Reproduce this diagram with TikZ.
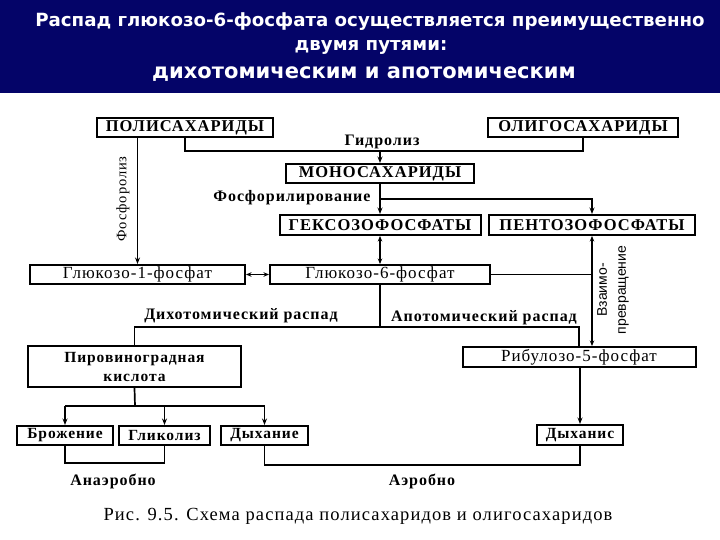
\documentclass[tikz,border=0pt]{standalone}
\usepackage{fontspec}
\setmainfont{Liberation Serif}[LetterSpace=6]
\newfontfamily\headfont{DejaVu Sans}
\newfontfamily\narrowfont{Liberation Sans}
\usetikzlibrary{arrows.meta,positioning,calc}
\definecolor{headblue}{RGB}{4,4,104}
\tikzset{
  head/.style  = {text=white,inner sep=0pt,font=\headfont\fontsize{18.2}{20}\selectfont\bfseries},
  capbox/.style= {draw,line width=2pt,inner sep=0pt,minimum height=19pt,
                  font=\fontsize{16.5}{18}\selectfont\bfseries},
  box/.style   = {draw,line width=2pt,inner sep=0pt,minimum height=19pt,
                  font=\fontsize{17}{18}\selectfont},
  bbox/.style  = {draw,line width=2pt,inner sep=0pt,minimum height=19pt,align=center,
                  font=\fontsize{15.5}{19}\selectfont\bfseries},
  lbl/.style   = {inner sep=0pt,font=\fontsize{16}{18}\selectfont\bfseries},
  link/.style  = {line width=1.7pt},
  arr/.style   = {link,-{Stealth[length=6.5pt,width=5pt]}},
  darr/.style  = {link,{Stealth[length=5.5pt,width=4.5pt]}-{Stealth[length=5.5pt,width=4.5pt]}},
}
\begin{document}
\begin{tikzpicture}[x=1pt,y=-1pt]
  \useasboundingbox (0,0) rectangle (720,540);
  \fill[headblue] (0,0) rectangle (720,93);
  \node[head] (t1) at (370,22) {Распад глюкозо-6-фосфата осуществляется преимущественно};
  \node[head] (t2) at (371,47) {двумя путями:};
  \node[head,font=\headfont\fontsize{21}{24}\selectfont\bfseries] (t3) at (364,74)
       {дихотомическим и апотомическим};

  \node[capbox,minimum width=176pt] (poly)  at (185,127.5) {ПОЛИСАХАРИДЫ};
  \node[capbox,minimum width=190pt] (oligo) at (583,127.5) {ОЛИГОСАХАРИДЫ};
  \node[capbox,minimum width=188pt] (mono)  at (380,173.5) {МОНОСАХАРИДЫ};
  \node[capbox,minimum width=201pt,minimum height=20pt] (hexo)  at (380,225) {ГЕКСОЗОФОСФАТЫ};
  \node[capbox,minimum width=206pt,minimum height=20pt] (pento) at (592,225) {ПЕНТОЗОФОСФАТЫ};
  \node[box,minimum width=215pt] (g1p) at (137.5,274.5) {Глюкозо-1-фосфат};
  \node[box,minimum width=220pt] (g6p) at (380,274.5) {Глюкозо-6-фосфат};
  \node[bbox,minimum width=213pt,minimum height=41pt] (pvk) at (134.5,366.5)
       {Пировиноградная\\кислота};
  \node[box,minimum width=233pt,minimum height=20pt] (ribu) at (579,357) {Рибулозо-5-фосфат};
  \node[bbox,minimum width=96pt] (brozh) at (65,435.5) {Брожение};
  \node[bbox,minimum width=91pt] (glik)  at (164.5,435.5) {Гликолиз};
  \node[bbox,minimum width=87pt] (dykh)  at (264.5,435.5) {Дыхание};
  \node[bbox,minimum width=86pt,minimum height=20pt] (dykh2) at (580,435) {Дыханис};

  \node[lbl] (hydro) at (382,142) {Гидролиз};
  \node[lbl] (phos)  at (292,198) {Фосфорилирование};
  \node[inner sep=0pt,rotate=90,font=\fontsize{14.5}{16}\selectfont] (lysis) at (123,199) {Фосфоролиз};
  \node[inner sep=0pt,rotate=90,align=center,font=\narrowfont\fontsize{14}{19}\selectfont]
       (interconv) at (613,290) {Взаимо-\\превращение};
  \node[lbl] (dicho) at (241,316) {Дихотомический распад};
  \node[lbl] (apo)   at (484,318) {Апотомический распад};
  \node[lbl] (anaer) at (113,481) {Анаэробно};
  \node[lbl] (aer)   at (422,481) {Аэробно};
  \node[inner sep=0pt,font=\fontsize{18.5}{20}\selectfont] (caption) at (358,516)
       {Рис. 9.5. Схема распада полисахаридов и олигосахаридов};

  \coordinate (hy) at (380,151);
  \coordinate (ph) at (380,199);
  \coordinate (sp) at (380,327);
  \coordinate (pv) at (135,406);
  \coordinate (an) at (0,463);
  \coordinate (ae) at (0,465);

  \draw[link] (poly.south) |- (hy) -| (oligo.south);
  \draw[arr] (hy) -- (mono.north);
  \draw[arr] (mono.south) -- (hexo.north);
  \draw[arr] (ph) -| (pento.north);
  \draw[arr] (poly.south -| g1p.north) -- (g1p.north);
  \draw[darr] (hexo.south) -- (g6p.north);
  \draw[darr] (g1p.east) -- (g6p.west);
  \draw[link] (g6p.east) -- (g6p.east -| pento.south);
  \draw[darr] (pento.south) -- (pento.south |- ribu.north);
  \draw[link] (g6p.south) -- (sp);
  \draw[link] (pvk.north) |- (sp) -| (ribu.north);
  \draw[link] (pvk.south) -- (pv);
  \draw[link] (brozh.north |- pv) -- (dykh.north |- pv);
  \foreach \n in {brozh,glik,dykh}
    \draw[arr] (\n.north |- pv) -- (\n.north);
  \draw[link] (brozh.south) -- (brozh.south |- an) -| (glik.south);
  \draw[link] (dykh.south) -- (dykh.south |- ae) -| (dykh2.south);
  \draw[arr] (ribu.south -| dykh2.north) -- (dykh2.north);
\end{tikzpicture}
\end{document}
